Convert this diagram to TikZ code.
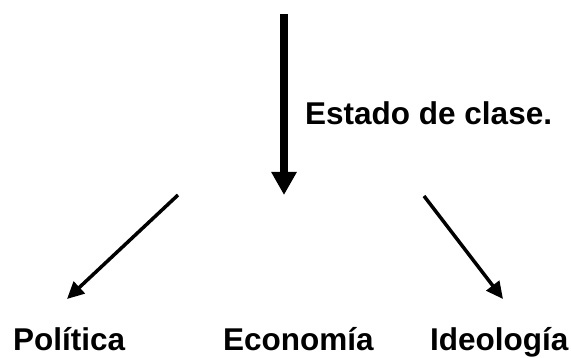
\documentclass[tikz,border=0pt]{standalone}
\usepackage{fontspec}
\setmainfont{Liberation Sans}
\usetikzlibrary{arrows.meta}

\tikzset{
  label text/.style={font=\bfseries\fontsize{31.5}{36}\selectfont, inner sep=0pt},
  big arrow/.style={line width=8pt, -{Triangle[length=23pt,width=24pt]}},
  side arrow/.style={line width=3.5pt, -{Triangle[length=17pt,width=16pt]}}
}

\begin{document}
\begin{tikzpicture}[x=1pt,y=1pt]
    \useasboundingbox (0,0) rectangle (571,358);
    \coordinate (top) at (284,344); % start of main arrow
    \coordinate (mid) at (284,163); % tip of main arrow
    \coordinate (lstart) at (178,163);
    \coordinate (lend) at (67,59);
    \coordinate (rstart) at (424,162);
    \coordinate (rend) at (503,59);
    \node[label text, anchor=base west] (estado) at (305,233) {Estado de clase.};
    \node[label text, anchor=base west] (politica) at (13,7.5) {Política};
    \node[label text, anchor=base west] (economia) at (223,7.5) {Economía};
    \node[label text, anchor=base west] (ideologia) at (430,7.5) {Ideología};
    \draw[big arrow] (top) -- (mid); % state
    \draw[side arrow] (lstart) -- (lend); % politics
    \draw[side arrow] (rstart) -- (rend); % ideology
\end{tikzpicture}
\end{document}
